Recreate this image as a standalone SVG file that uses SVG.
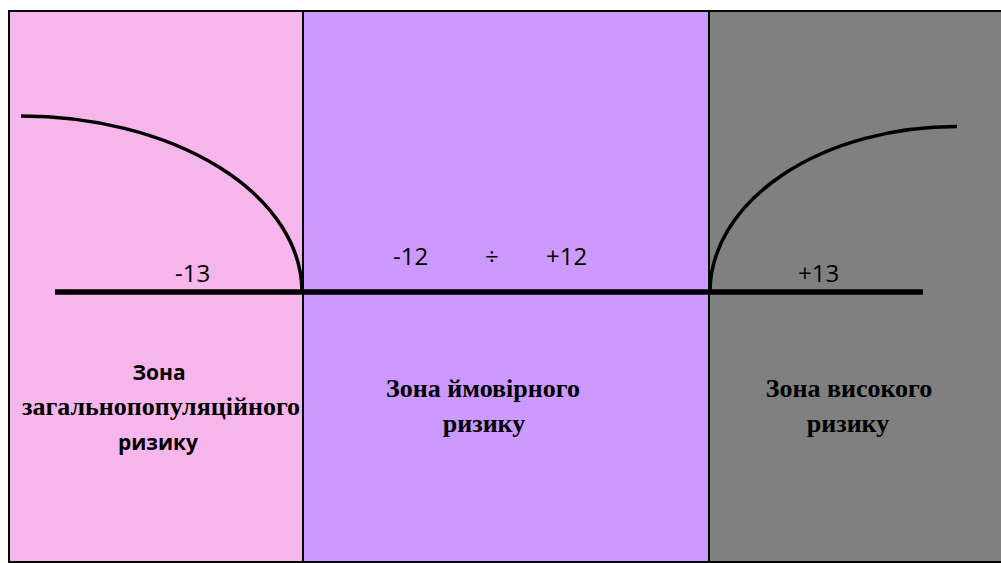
<svg xmlns="http://www.w3.org/2000/svg" width="1001" height="563" viewBox="0 0 1001 563">
<style>
.zone{stroke:#000;stroke-width:2}
.num{font-family:"Open Sans","Liberation Sans",sans-serif;font-size:24px;fill:#000}
.serif{font-family:"Liberation Serif","Times New Roman",serif;font-weight:bold;font-size:26px;fill:#000;text-anchor:middle}
.sans{font-family:"Open Sans","Liberation Sans",sans-serif;font-weight:bold;font-size:21px;fill:#000;text-anchor:middle}
.curve{fill:none;stroke:#000;stroke-width:3.5}
</style>
<rect width="1001" height="563" fill="#fff"/>
<g id="zone-general">
<rect class="zone" x="9" y="11" width="294" height="551" fill="#F6B6EC"/>
<text class="num" x="175" y="282">-13</text>
<text class="sans" x="159" y="380">Зона</text>
<text class="serif" x="161" y="415">загальнопопуляційного</text>
<text class="sans" x="158" y="450">ризику</text>
</g>
<g id="zone-probable">
<rect class="zone" x="303" y="11" width="406" height="551" fill="#CC99FF"/>
<text class="num" x="393" y="265">-12</text>
<text class="num" x="485" y="265">÷</text>
<text class="num" x="546" y="265">+12</text>
<text class="serif" x="483" y="397">Зона ймовірного</text>
<text class="serif" x="484" y="432">ризику</text>
</g>
<g id="zone-high">
<rect class="zone" x="709" y="11" width="294" height="551" fill="#808080"/>
<text class="num" x="798" y="282">+13</text>
<text class="serif" x="849" y="397">Зона високого</text>
<text class="serif" x="848" y="432">ризику</text>
</g>
<g id="connectors">
<line x1="55" y1="292" x2="923" y2="292" stroke="#000" stroke-width="5.5"/>
<path class="curve" d="M21,116 A281,176 0 0 1 302,292"/>
<path class="curve" d="M710,292 A247,165.5 0 0 1 957,126.5"/>
</g>
</svg>
